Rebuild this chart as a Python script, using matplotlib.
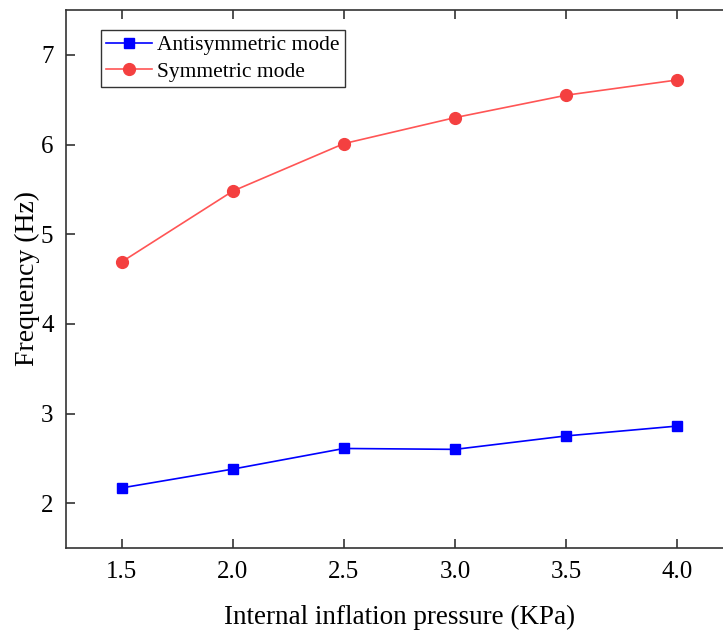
import matplotlib
matplotlib.use('Agg')
import matplotlib.pyplot as plt

# Data
pressure = [1.5, 2.0, 2.5, 3.0, 3.5, 4.0]
antisymmetric = [2.17, 2.38, 2.61, 2.60, 2.75, 2.86]
symmetric = [4.69, 5.48, 6.01, 6.30, 6.55, 6.72]
x_ticks = [1.5, 2.0, 2.5, 3.0, 3.5, 4.0]
y_ticks = [2, 3, 4, 5, 6, 7]

plt.rcParams['font.family'] = ['Liberation Serif', 'DejaVu Serif']

W, H = 723, 632
fig = plt.figure(figsize=(W / 100, H / 100), dpi=100)
ax = fig.add_axes([66 / W, (H - 548) / H, (733 - 66) / W, (548 - 10) / H])

ax.plot(pressure, antisymmetric, color='#0000ff', lw=1.2, marker='s', ms=7.5,
        markerfacecolor='#0000ff', markeredgecolor='#0000ff', label='Antisymmetric mode')
ax.plot(pressure, symmetric, color='#ff5555', lw=1.2, marker='o', ms=8.5,
        markerfacecolor='#f44040', markeredgecolor='#f44040', label='Symmetric mode')

ax.set_xlim(1.25, 4.25)
ax.set_ylim(1.5, 7.5)
ax.set_xticks(x_ticks)
ax.set_xticklabels([f'{v:.1f}' for v in x_ticks])
ax.set_yticks(y_ticks)
ax.tick_params(direction='in', length=6.5, width=1.2, labelsize=18, pad=9,
               top=True, right=True, colors='#333333', labelcolor='black')
for s in ax.spines.values():
    s.set_linewidth(1.2)
    s.set_color('#333333')

ax.set_xlabel('Internal inflation pressure (KPa)', fontsize=19.5, labelpad=16)
ax.set_ylabel('Frequency (Hz)', fontsize=20, labelpad=1)

leg = ax.legend(loc='upper left', bbox_to_anchor=((101 - 66) / (733 - 66), 1 - 20 / 538),
                fontsize=15.5, fancybox=False, framealpha=1, edgecolor='#333333',
                handlelength=2.1, borderpad=0.25, labelspacing=0.3, handletextpad=0.25,
                borderaxespad=0)
leg.get_frame().set_linewidth(1.0)

fig.savefig('out.png', dpi=100)
